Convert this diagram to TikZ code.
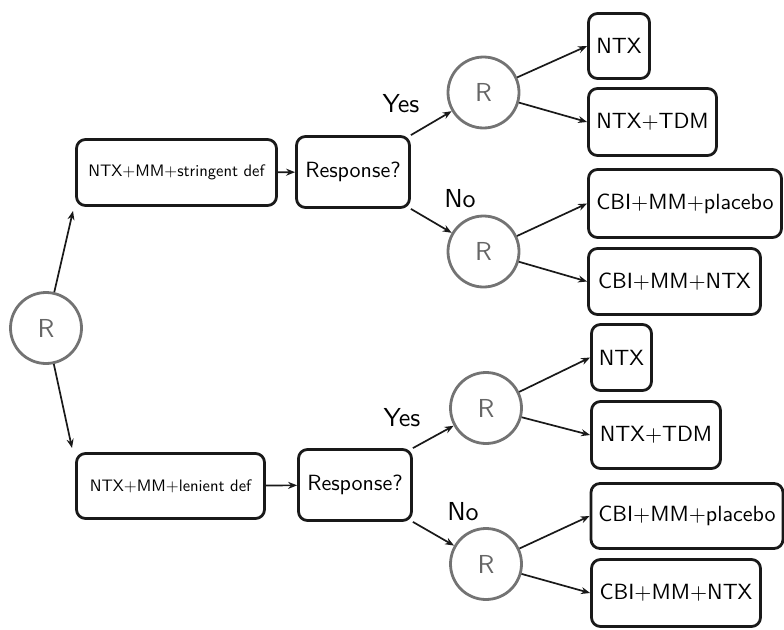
\documentclass[tikz,border=0pt]{standalone}
\usepackage{fontspec}
\setsansfont{lmsans10-regular.otf}
\usetikzlibrary{arrows.meta}
\begin{document}
\begin{tikzpicture}[x=1pt,y=-1pt,
  box/.style={draw=black!90, line width=2.8pt, rounded corners=9pt, inner sep=0pt,
    font=\sffamily\fontsize{22}{26}\selectfont},
  smallbox/.style={box, font=\sffamily\fontsize{16.6}{20}\selectfont},
  rnd/.style={circle, draw=black!55, line width=2.8pt, minimum size=71pt, inner sep=0pt,
    text=black!60, font=\sffamily\fontsize{26}{30}\selectfont},
  lbl/.style={font=\sffamily\fontsize{26}{30}\selectfont, inner sep=0pt},
  arr/.style={-{Stealth[length=9pt,width=7pt]}, line width=1.7pt, draw=black!90}]
\useasboundingbox (0,0) rectangle (784,629);
% root
\node[rnd] (root) at (46,328) {R};
% upper branch
\node[smallbox, minimum width=200pt, minimum height=66pt] (s1) at (176.5,172.5) {NTX+MM+stringent def};
\node[box, minimum width=113pt, minimum height=71pt] (q1) at (353,172) {Response?};
\node[rnd] (c1) at (483.5,92.5) {R};
\node[rnd] (c2) at (483.5,251.5) {R};
\node[box, minimum width=61pt, minimum height=65pt] (a1) at (619,46) {NTX};
\node[box, minimum width=128pt, minimum height=67pt] (a2) at (652.5,122) {NTX+TDM};
\node[box, minimum width=193pt, minimum height=68pt] (a3) at (685,203.5) {CBI+MM+placebo};
\node[box, minimum width=172pt, minimum height=66pt] (a4) at (674.5,281.5) {CBI+MM+NTX};
\node[lbl] (yes1) at (401,104) {Yes};
\node[lbl] (no1) at (460,199) {No};
% lower branch
\node[smallbox, minimum width=188pt, minimum height=65pt] (s2) at (170.5,486) {NTX+MM+lenient def};
\node[box, minimum width=113pt, minimum height=71pt] (q2) at (355,485) {Response?};
\node[rnd] (c3) at (486,408) {R};
\node[rnd] (c4) at (486,564) {R};
\node[box, minimum width=60pt, minimum height=66pt] (b1) at (621.5,357.5) {NTX};
\node[box, minimum width=129pt, minimum height=67pt] (b2) at (656,435) {NTX+TDM};
\node[box, minimum width=192pt, minimum height=65pt] (b3) at (687,516) {CBI+MM+placebo};
\node[box, minimum width=169pt, minimum height=67pt] (b4) at (676,593) {CBI+MM+NTX};
\node[lbl] (yes2) at (402,418) {Yes};
\node[lbl] (no2) at (463,512) {No};
% connectors
\coordinate (s1in) at (73,211);
\coordinate (s2in) at (72,448);
\draw[arr] (root) -- (s1in);
\draw[arr] (root) -- (s2in);
\draw[arr] (s1) -- (q1);
\draw[arr] (q1.north east) -- (c1);
\draw[arr] (q1.south east) -- (c2);
\draw[arr] (c1) -- (a1.west);
\draw[arr] (c1) -- (a2.west);
\draw[arr] (c2) -- (a3.west);
\draw[arr] (c2) -- (a4.west);
\draw[arr] (s2) -- (q2);
\draw[arr] (q2.north east) -- (c3);
\draw[arr] (q2.south east) -- (c4);
\draw[arr] (c3) -- (b1.west);
\draw[arr] (c3) -- (b2.west);
\draw[arr] (c4) -- (b3.west);
\draw[arr] (c4) -- (b4.west);
\end{tikzpicture}
\end{document}
